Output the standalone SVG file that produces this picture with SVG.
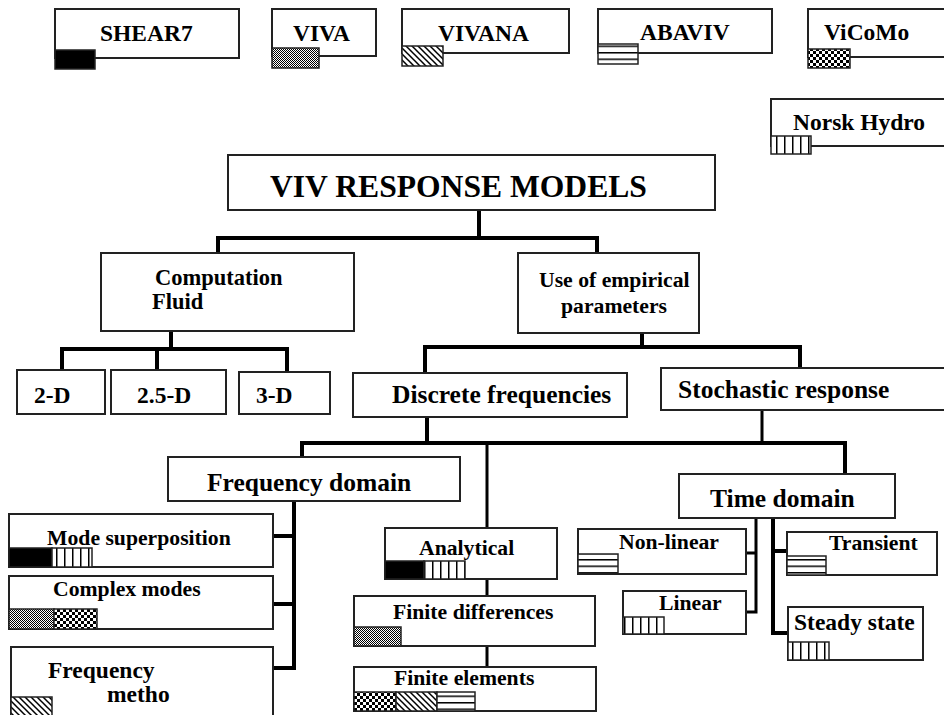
<svg xmlns="http://www.w3.org/2000/svg" width="944" height="715" viewBox="0 0 944 715">
<style>
.box{fill:#fff;stroke:#222;stroke-width:2}
.sw{stroke:#222;stroke-width:1.5}
.t{font-family:"Liberation Serif","Times New Roman",serif;font-weight:bold;fill:#000}
.s21{font-size:21.7px}.s22{font-size:22.5px}.s23{font-size:23.5px}.s25{font-size:25.5px}.s31{font-size:31.6px}
.c{fill:none;stroke:#000;stroke-width:4;stroke-linecap:square}
.c3{fill:none;stroke:#000;stroke-width:3;stroke-linecap:square}
</style>
<defs>
<pattern id="dots" width="2" height="2" patternUnits="userSpaceOnUse"><rect width="2" height="2" fill="#fff"/><rect width="1" height="1" fill="#000"/><rect x="1" y="1" width="1" height="1" fill="#000"/></pattern>
<pattern id="chk" width="6" height="6" patternUnits="userSpaceOnUse"><rect width="6" height="6" fill="#fff"/><rect width="3" height="3" fill="#000"/><rect x="3" y="3" width="3" height="3" fill="#000"/></pattern>
<pattern id="hatch" width="6" height="6" patternUnits="userSpaceOnUse"><rect width="6" height="6" fill="#fff"/><path d="M0 0L6 6M-1 5L1 7M5 -1L7 1" stroke="#000" stroke-width="1.5"/></pattern>
<pattern id="hl" width="6" height="6.5" patternUnits="userSpaceOnUse"><rect width="6" height="6.5" fill="#fff"/><rect y="0" width="6" height="1.5" fill="#000"/></pattern>
<pattern id="vl" width="8" height="6" patternUnits="userSpaceOnUse"><rect width="8" height="6" fill="#fff"/><rect x="0" width="1.5" height="6" fill="#000"/></pattern>
</defs>

<g id="connectors">
<path class="c" d="M479 210V238M218 238H597M218 238V253M597 238V253"/>
<path class="c" d="M171 331V349M62 349H287M62 349V370M157 349V370M287 349V372"/>
<path class="c" d="M642 333V347M425 347H800M425 347V373M800 347V368"/>
<path class="c" d="M427 417V443M302 443H845M302 443V457M845 443V474"/>
<path class="c3" d="M762 410V443M487 443V528"/>
<path class="c" d="M294 501V668M273 536H294M273 604H294M273 668H294"/>
<path class="c3" d="M487 579V596M487 646V667"/>
<path class="c3" d="M756 518V612M746 553H756M746 612H756"/>
<path class="c" d="M773 518V633M773 551H787M773 633H788"/>
</g>

<g id="shear7"><rect class="box" x="55" y="9" width="184" height="49"/><rect class="sw" x="55" y="50" width="40" height="19" fill="#000"/><text class="t s23" x="100" y="41">SHEAR7</text></g>
<g id="viva"><rect class="box" x="272" y="9" width="104" height="47"/><rect class="sw" x="272" y="48" width="47" height="20" fill="url(#dots)"/><text class="t s23" x="293" y="41">VIVA</text></g>
<g id="vivana"><rect class="box" x="402" y="9" width="167" height="44"/><rect class="sw" x="402" y="46" width="41" height="20" fill="url(#hatch)"/><text class="t s23" x="438" y="41">VIVANA</text></g>
<g id="abaviv"><rect class="box" x="598" y="9" width="174" height="44"/><rect class="sw" x="598" y="44" width="40" height="20" fill="url(#hl)"/><text class="t s23" x="640" y="40">ABAVIV</text></g>
<g id="vicomo"><rect class="box" x="808" y="9" width="150" height="48"/><rect class="sw" x="808" y="49" width="42" height="19" fill="url(#chk)"/><text class="t s23" x="824" y="40">ViCoMo</text></g>
<g id="norsk"><rect class="box" x="771" y="99" width="190" height="47"/><rect class="sw" x="771" y="136" width="40" height="18" fill="url(#vl)"/><text class="t s23" x="793" y="130">Norsk Hydro</text></g>

<g id="viv"><rect class="box" x="228" y="155" width="487" height="55"/><text class="t s31" x="270" y="197">VIV RESPONSE MODELS</text></g>
<g id="cfd"><rect class="box" x="101" y="253" width="253" height="78"/><text class="t s22" x="155" y="285">Computation</text><text class="t s22" x="152" y="309">Fluid</text></g>
<g id="empirical"><rect class="box" x="518" y="253" width="181" height="80"/><text class="t s21" x="539" y="287">Use of empirical</text><text class="t s21" x="561" y="313">parameters</text></g>
<g id="d2"><rect class="box" x="17" y="370" width="88" height="44"/><text class="t s23" x="34" y="403">2-D</text></g>
<g id="d25"><rect class="box" x="111" y="370" width="115" height="44"/><text class="t s23" x="137" y="403">2.5-D</text></g>
<g id="d3"><rect class="box" x="239" y="372" width="91" height="42"/><text class="t s23" x="256" y="403">3-D</text></g>
<g id="discrete"><rect class="box" x="353" y="373" width="274" height="44"/><text class="t s25" x="392" y="403">Discrete frequencies</text></g>
<g id="stochastic"><rect class="box" x="661" y="368" width="300" height="42"/><text class="t s25" x="678" y="398">Stochastic response</text></g>
<g id="freqdomain"><rect class="box" x="168" y="457" width="292" height="44"/><text class="t s25" x="207" y="491">Frequency domain</text></g>
<g id="timedomain"><rect class="box" x="679" y="474" width="216" height="44"/><text class="t s25" x="710" y="507">Time domain</text></g>
<g id="modesup"><rect class="box" x="9" y="514" width="264" height="53"/><rect class="sw" x="9" y="548" width="43" height="19" fill="#000"/><rect class="sw" x="52" y="548" width="40" height="19" fill="url(#vl)"/><text class="t s21" x="47" y="545">Mode superposition</text></g>
<g id="complex"><rect class="box" x="9" y="576" width="264" height="53"/><rect class="sw" x="9" y="609" width="45" height="20" fill="url(#dots)"/><rect class="sw" x="54" y="609" width="43" height="20" fill="url(#chk)"/><text class="t s21" x="53" y="596">Complex modes</text></g>
<g id="freqmeth"><rect class="box" x="11" y="647" width="262" height="80"/><rect class="sw" x="11" y="697" width="41" height="22" fill="url(#hatch)"/><text class="t s23" x="48" y="678">Frequency</text><text class="t s23" x="107" y="702">metho</text></g>
<g id="analytical"><rect class="box" x="385" y="528" width="172" height="51"/><rect class="sw" x="385" y="561" width="39" height="18" fill="#000"/><rect class="sw" x="424" y="561" width="41" height="18" fill="url(#vl)"/><text class="t s21" x="419" y="555">Analytical</text></g>
<g id="finitediff"><rect class="box" x="354" y="596" width="241" height="50"/><rect class="sw" x="354" y="627" width="47" height="19" fill="url(#dots)"/><text class="t s21" x="393" y="619">Finite differences</text></g>
<g id="finiteel"><rect class="box" x="354" y="667" width="242" height="44"/><rect class="sw" x="354" y="692" width="42" height="19" fill="url(#chk)"/><rect class="sw" x="396" y="692" width="41" height="19" fill="url(#hatch)"/><rect class="sw" x="437" y="692" width="38" height="19" fill="url(#hl)"/><text class="t s21" x="394" y="685">Finite elements</text></g>
<g id="nonlinear"><rect class="box" x="578" y="529" width="168" height="45"/><rect class="sw" x="578" y="554" width="40" height="19" fill="url(#hl)"/><text class="t s21" x="619" y="549">Non-linear</text></g>
<g id="linear"><rect class="box" x="623" y="591" width="123" height="43"/><rect class="sw" x="623" y="617" width="41" height="17" fill="url(#vl)"/><text class="t s21" x="659" y="610">Linear</text></g>
<g id="transient"><rect class="box" x="787" y="532" width="150" height="43"/><rect class="sw" x="787" y="556" width="39" height="19" fill="url(#hl)"/><text class="t s21" x="829" y="550">Transient</text></g>
<g id="steady"><rect class="box" x="788" y="607" width="135" height="53"/><rect class="sw" x="788" y="642" width="41" height="18" fill="url(#vl)"/><text class="t s23" x="794" y="630">Steady state</text></g>
</svg>
